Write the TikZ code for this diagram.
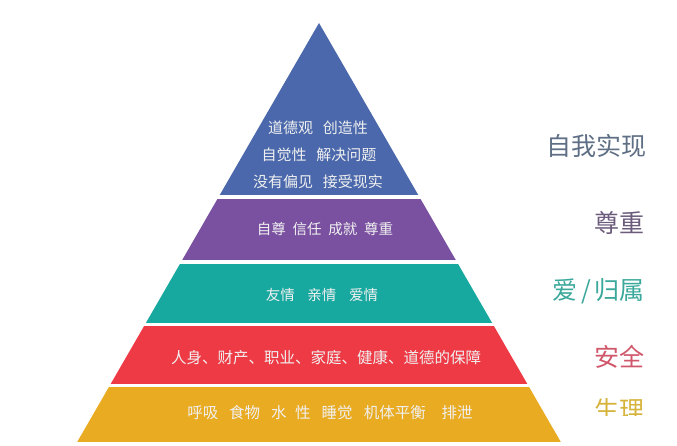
\documentclass[tikz,border=0pt]{standalone}
\usepackage{fontspec}
\setmainfont{Noto Sans CJK SC}
\definecolor{cblue}{HTML}{4A68AB}
\definecolor{cpurple}{HTML}{7A51A1}
\definecolor{cteal}{HTML}{17A89F}
\definecolor{cred}{HTML}{EE3A45}
\definecolor{cyellow}{HTML}{E9AB21}
\definecolor{lblue}{HTML}{5E6E84}
\definecolor{lpurple}{HTML}{6C5C7C}
\definecolor{lteal}{HTML}{3AA89A}
\definecolor{lred}{HTML}{D0566A}
\definecolor{lyellow}{HTML}{D6B43C}
\tikzset{
  bandtext/.style={text=white!94!black, inner sep=0pt, anchor=center},
  sidelabel/.style={inner sep=0pt, anchor=east, font=\fontsize{25}{25}\selectfont}
}
\begin{document}
\begin{tikzpicture}[x=1pt,y=-1pt]
\useasboundingbox (0,0) rectangle (677,446);
\fill[white] (0,0) rectangle (677,446);
\coordinate (apex) at (319,23);
\begin{scope}
  \clip (apex) -- (319-242.4,443) -- (319+242.4,443) -- cycle;
  \fill[cblue]   (0,0)   rectangle (677,195);
  \fill[cpurple] (0,199) rectangle (677,260);
  \fill[cteal]   (0,264) rectangle (677,323);
  \fill[cred]    (0,326) rectangle (677,384);
  \fill[cyellow] (0,387) rectangle (677,442);
\end{scope}
% band texts
\node[bandtext, font=\fontsize{15}{15}\selectfont] (b1) at (318,128) {道德观\hspace{10pt}创造性};
\node[bandtext, font=\fontsize{15}{15}\selectfont] (b2) at (319,155) {自觉性\hspace{10pt}解决问题};
\node[bandtext, font=\fontsize{15}{15}\selectfont] (b3) at (318,182) {没有偏见\hspace{10pt}接受现实};
\node[bandtext, font=\fontsize{14.5}{14.5}\selectfont] (p1) at (325,229) {自尊\hspace{6.8pt}信任\hspace{6.8pt}成就\hspace{6.8pt}尊重};
\node[bandtext, font=\fontsize{14.5}{14.5}\selectfont] (t1) at (322,295) {友情\hspace{12.7pt}亲情\hspace{12.7pt}爱情};
\node[bandtext, font=\fontsize{15.5}{15.5}\selectfont] (r1) at (326,358) {人身、财产、职业、家庭、健康、道德的保障};
\node[bandtext, font=\fontsize{15.5}{15.5}\selectfont] (y1) at (330,413) {呼吸\hspace{11pt}食物\hspace{11pt}水\hspace{8.5pt}性\hspace{11pt}睡觉\hspace{11pt}机体平衡\hspace{16pt}排泄};
% side labels
\node[sidelabel, text=lblue]   (l1) at (647,146) {自我实现};
\node[sidelabel, text=lpurple] (l2) at (645,223) {尊重};
\node[sidelabel, text=lteal]   (l3) at (645,291) {爱\hspace{4pt}/\hspace{4pt}归属};
\node[sidelabel, text=lred]    (l4) at (645,357) {安全};
\begin{scope}
  \clip (570,380) rectangle (677,415);
  \node[sidelabel, text=lyellow] (l5) at (645,410) {生理};
\end{scope}
\end{tikzpicture}
\end{document}
